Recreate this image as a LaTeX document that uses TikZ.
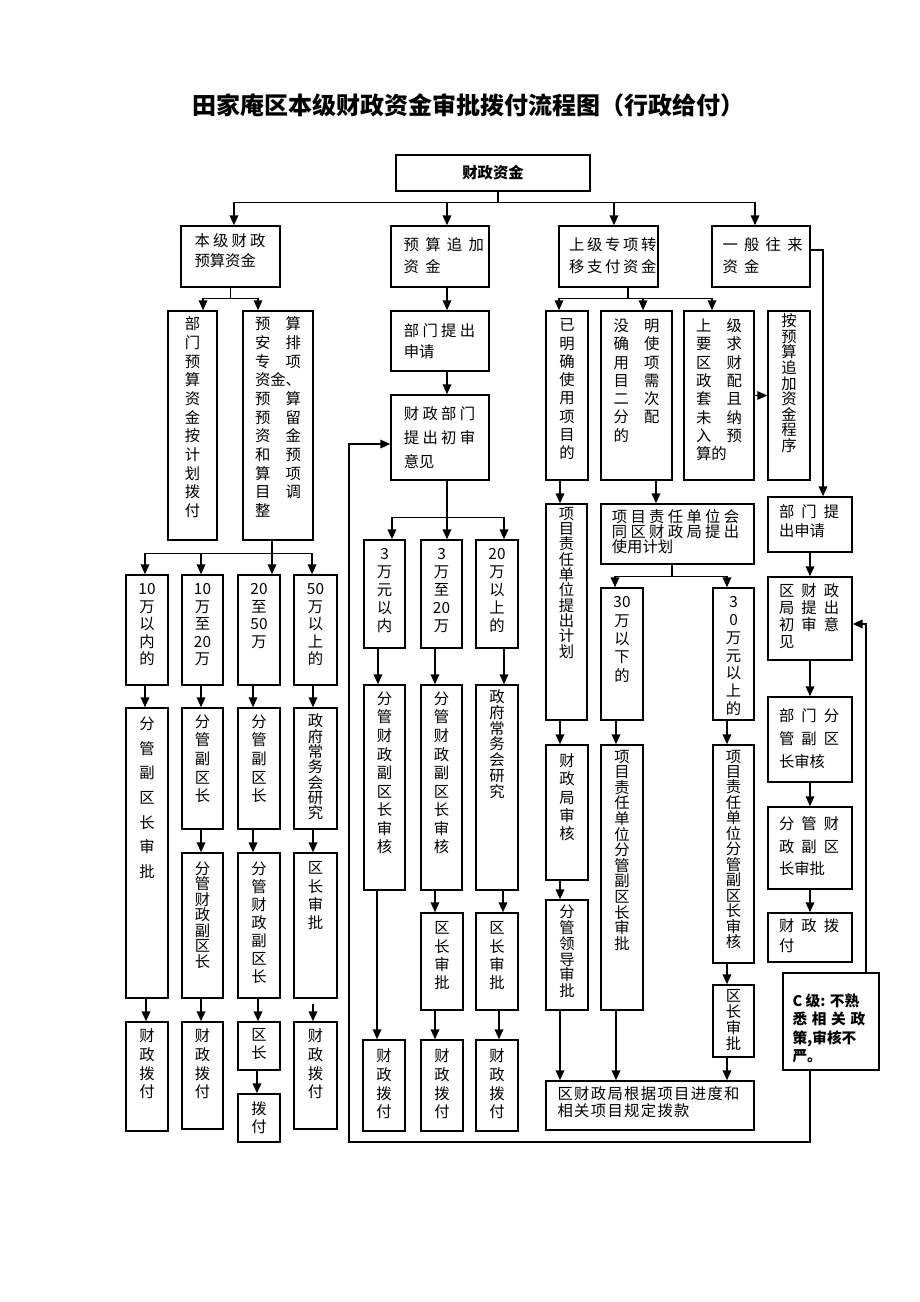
\documentclass[tikz,border=0pt]{standalone}
\usepackage{fontspec}
\setmainfont{Noto Sans CJK SC}
\usetikzlibrary{arrows.meta,calc}
\makeatletter
\newcommand\ls[2]{\def\ls@g{\hspace{#1}}\let\ls@sep\relax\@tfor\ls@c:=#2\do{\ls@sep\ls@c\let\ls@sep\ls@g}}
\makeatother
\newcommand\gr[2]{\makebox[3em]{#1\hfill#2}}
\newcommand\gl[1]{\makebox[3em][l]{#1}}
\tikzset{
 box/.style={draw,line width=1.1pt,inner sep=0pt},
 txt/.style={inner sep=0pt,align=center},
 ln/.style={line width=1.1pt},
 arr/.style={line width=1.1pt,-{Triangle[width=6.5pt,length=7.5pt]}},
}
\newcommand\bx[5]{\node[box,minimum width={(#4-#2)*0.75pt},minimum height={(#5-#3)*0.75pt}] (#1) at ({(#2+#4)/2},{(#3+#5)/2}) {};}
\newcommand\vtx[4]{\node[txt,anchor=north,font=\fontsize{11.5pt}{#3}\selectfont] at ([yshift={-(#2-7.7)*0.75pt}]#1.north) {#4};}
\newcommand\htx[5]{\node[txt,anchor=north west,align=left,font=\fontsize{11.5pt}{#4}\selectfont] at ([xshift=#2,yshift={-(#3-7.7)*0.75pt}]#1.north west) {#5};}
\newcommand\va[3]{\path ([xshift=#3]#1.south) coordinate (tmpA); \draw[arr] (tmpA) -- (tmpA |- #2.north);}
\begin{document}
\begin{tikzpicture}[x=0.75pt,y=-0.75pt]
\useasboundingbox (0,0) rectangle (920,1302);
\node[font=\fontsize{18pt}{20pt}\selectfont\bfseries] (title) at (468,105) {田家庵区本级财政资金审批拨付流程图（行政给付）};
% root
\bx{root}{396}{155}{590}{191}
\node[font=\fontsize{11.5pt}{14pt}\selectfont\bfseries] at (root) {财政资金};
% top row
\bx{A}{181}{226}{280}{287}
\htx{A}{10.5pt}{16}{15pt}{\ls{2.4pt}{本级财政}\\预算资金}
\bx{B}{391}{226}{489}{287}
\htx{B}{9.75pt}{20}{16.5pt}{\ls{4.8pt}{预算追加}\\\ls{4.8pt}{资金}}
\bx{C}{559}{226}{658}{287}
\htx{C}{8pt}{20}{16.5pt}{\ls{2pt}{上级专项转}\\\ls{2pt}{移支付资金}}
\bx{D}{712}{226}{810}{287}
\htx{D}{8.25pt}{20}{16.5pt}{\ls{4.7pt}{一般往来}\\\ls{4.7pt}{资金}}
\draw[ln] ([xshift=3.75pt]root.south) -- ++(0,11) coordinate (b0);
\draw[arr] (b0) -| ([xshift=2.6pt]A.north);
\draw[arr] (b0) -| ([xshift=5.25pt]B.north);
\draw[arr] (b0) -| ([xshift=4.1pt]C.north);
\draw[arr] (b0) -| ([xshift=-4.5pt]D.north);
% column A
\bx{A1}{168}{311}{217}{540}
\vtx{A1}{14}{14pt}{部\\门\\预\\算\\资\\金\\按\\计\\划\\拨\\付}
\bx{A2}{243}{311}{313}{540}
\vtx{A2}{14}{14pt}{\gr{预}{算}\\\gr{安}{排}\\\gr{专}{项}\\\gl{资金、}\\\gr{预}{算}\\\gr{预}{留}\\\gr{资}{金}\\\gr{和}{预}\\\gr{算}{项}\\\gr{目}{调}\\\gl{整}}
\draw[ln] (A.south) -- ++(0,11) coordinate (bA);
\draw[arr] (bA) -| ([xshift=7.9pt]A1.north);
\draw[arr] (bA) -| ([xshift=-15pt]A2.north);
\bx{E1}{126}{575}{168}{685}
\vtx{E1}{17}{13.1pt}{10\\万\\以\\内\\的}
\bx{E2}{182}{575}{223}{685}
\vtx{E2}{17}{13.1pt}{10\\万\\至\\20\\万}
\bx{E3}{238}{575}{280}{685}
\vtx{E3}{17}{13.1pt}{20\\至\\50\\万}
\bx{E4}{294}{575}{337}{685}
\vtx{E4}{17}{13.1pt}{50\\万\\以\\上\\的}
\draw[ln] ([xshift=-4.5pt]A2.south) -- ++(0,13) coordinate (bA2);
\draw[arr] (bA2) -| ([xshift=-1.5pt]E1.north);
\draw[arr] (bA2) -| ([xshift=-1.1pt]E2.north);
\draw[arr] (bA2) -| ([xshift=9.75pt]E3.north);
\draw[arr] (bA2) -| ([xshift=-2.6pt]E4.north);
\bx{F1}{126}{708}{168}{998}
\vtx{F1}{17}{18.5pt}{分\\管\\副\\区\\长\\审\\批}
\bx{F2}{182}{708}{223}{829}
\vtx{F2}{15}{13.9pt}{分\\管\\副\\区\\长}
\bx{F3}{238}{708}{280}{829}
\vtx{F3}{15}{13.9pt}{分\\管\\副\\区\\长}
\bx{F4}{294}{708}{337}{829}
\vtx{F4}{14}{11.5pt}{政\\府\\常\\务\\会\\研\\究}
\va{E1}{F1}{-1.5pt}
\va{E2}{F2}{-1.1pt}
\va{E3}{F3}{-4.5pt}
\va{E4}{F4}{-1.9pt}
\bx{G2}{182}{853}{223}{998}
\vtx{G2}{17}{11.6pt}{分\\管\\财\\政\\副\\区\\长}
\bx{G3}{238}{853}{280}{998}
\vtx{G3}{17}{13.5pt}{分\\管\\财\\政\\副\\区\\长}
\bx{G4}{294}{853}{337}{998}
\vtx{G4}{17}{13.7pt}{区\\长\\审\\批}
\va{F2}{G2}{-1.1pt}
\va{F3}{G3}{-4.5pt}
\va{F4}{G4}{-1.9pt}
\bx{H1}{126}{1022}{168}{1131}
\vtx{H1}{15}{14pt}{财\\政\\拨\\付}
\bx{H2}{182}{1022}{223}{1129}
\vtx{H2}{15}{14pt}{财\\政\\拨\\付}
\bx{H3}{238}{1022}{280}{1070}
\vtx{H3}{15}{13.5pt}{区\\长}
\bx{H4}{294}{1022}{337}{1129}
\vtx{H4}{15}{14pt}{财\\政\\拨\\付}
\bx{H5}{238}{1094}{280}{1142}
\vtx{H5}{16}{13.5pt}{拨\\付}
\va{F1}{H1}{-0.75pt}
\va{G2}{H2}{-1.1pt}
\va{G3}{H3}{-0.75pt}
\path ([xshift=-1.9pt,yshift=-3.75pt]G4.south) coordinate (g4s);
\draw[arr] (g4s) -- (g4s |- H4.north);
\va{H3}{H5}{-1.5pt}
% column B
\bx{B1}{391}{311}{489}{371}
\htx{B1}{10pt}{21}{15.75pt}{\ls{2.5pt}{部门提出}\\申请}
\bx{B2}{391}{395}{489}{480}
\htx{B2}{10pt}{20}{18pt}{\ls{2.5pt}{财政部门}\\\ls{2.5pt}{提出初审}\\意见}
\va{B}{B1}{5.25pt}
\va{B1}{B2}{5.25pt}
\bx{I1}{364}{540}{405}{648}
\vtx{I1}{17}{13.4pt}{3\\万\\元\\以\\内}
\bx{I2}{421}{540}{462}{648}
\vtx{I2}{17}{13.4pt}{3\\万\\至\\20\\万}
\bx{I3}{476}{540}{518}{648}
\vtx{I3}{17}{13.4pt}{20\\万\\以\\上\\的}
\draw[ln] ([xshift=5.25pt]B2.south) -- ++(0,37) coordinate (bB2);
\draw[arr] (bB2) -| ([xshift=5.6pt]I1.north);
\draw[arr] (bB2) -| ([xshift=4.1pt]I2.north);
\draw[arr] (bB2) -| ([xshift=5.25pt]I3.north);
\bx{J1}{364}{685}{405}{890}
\vtx{J1}{15}{13.9pt}{分\\管\\财\\政\\副\\区\\长\\审\\核}
\bx{J2}{421}{685}{462}{890}
\vtx{J2}{15}{13.9pt}{分\\管\\财\\政\\副\\区\\长\\审\\核}
\bx{J3}{476}{685}{518}{890}
\vtx{J3}{13}{11.8pt}{政\\府\\常\\务\\会\\研\\究}
\va{I1}{J1}{-4.9pt}
\va{I2}{J2}{-4.9pt}
\va{I3}{J3}{5.25pt}
\bx{K2}{421}{913}{463}{1010}
\vtx{K2}{17}{13.7pt}{区\\长\\审\\批}
\bx{K3}{476}{913}{518}{1010}
\vtx{K3}{17}{13.7pt}{区\\长\\审\\批}
\va{J2}{K2}{-4.9pt}
\va{J3}{K3}{4.5pt}
\bx{L1}{363}{1040}{405}{1131}
\vtx{L1}{17}{14pt}{财\\政\\拨\\付}
\bx{L2}{421}{1040}{463}{1131}
\vtx{L2}{17}{14pt}{财\\政\\拨\\付}
\bx{L3}{476}{1040}{518}{1131}
\vtx{L3}{17}{14pt}{财\\政\\拨\\付}
\va{J1}{L1}{-5.6pt}
\va{K2}{L2}{-5.25pt}
\va{K3}{L3}{1.5pt}
% column C
\bx{C1}{546}{311}{588}{480}
\vtx{C1}{16}{13.7pt}{已\\明\\确\\使\\用\\项\\目\\的}
\bx{C2}{601}{311}{672}{480}
\vtx{C2}{16}{13.7pt}{\gr{没}{明}\\\gr{确}{使}\\\gr{用}{项}\\\gr{目}{需}\\\gr{二}{次}\\\gr{分}{配}\\\gl{的}}
\bx{C3}{684}{311}{754}{480}
\vtx{C3}{16}{13.7pt}{\gr{上}{级}\\\gr{要}{求}\\\gr{区}{财}\\\gr{政}{配}\\\gr{套}{且}\\\gr{未}{纳}\\\gr{入}{预}\\\gl{算的}}
\bx{C4}{768}{311}{810}{480}
\vtx{C4}{11}{11.7pt}{按\\预\\算\\追\\加\\资\\金\\程\\序}
\draw[ln] ([xshift=14.6pt]C.south) -- ++(0,11) coordinate (bC);
\draw[arr] (bC) -| ([xshift=-6pt]C1.north);
\draw[arr] (bC) -| ([xshift=4.9pt]C2.north);
\draw[arr] (bC) -| ([xshift=-5.25pt]C3.north);
\draw[arr] (C3.east) -- (C4.west);
\bx{C5}{546}{504}{587}{720}
\vtx{C5}{11}{11.5pt}{项\\目\\责\\任\\单\\位\\提\\出\\计\\划}
\bx{C6}{601}{504}{754}{564}
\htx{C6}{8.5pt}{14}{11.3pt}{\ls{2.5pt}{项目责任单位会}\\\ls{2.5pt}{同区财政局提出}\\使用计划}
\va{C1}{C5}{-5.25pt}
\va{C2}{C6}{14.6pt}
\bx{C7}{601}{588}{643}{720}
\vtx{C7}{17}{13.7pt}{30\\万\\以\\下\\的}
\bx{C8}{713}{588}{754}{720}
\vtx{C8}{17}{13.3pt}{3\\0\\万\\元\\以\\上\\的}
\draw[ln] ([xshift=-4.1pt]C6.south) -- ++(0,12) coordinate (bC6);
\draw[arr] (bC6) -| ([xshift=-5.25pt]C7.north);
\draw[arr] (bC6) -| ([xshift=-4.9pt]C8.north);
\bx{C9}{546}{745}{588}{880}
\vtx{C9}{17}{13.7pt}{财\\政\\局\\审\\核}
\bx{C10}{601}{745}{643}{1010}
\vtx{C10}{13}{11.7pt}{项\\目\\责\\任\\单\\位\\分\\管\\副\\区\\长\\审\\批}
\bx{C11}{713}{745}{754}{963}
\vtx{C11}{13}{11.6pt}{项\\目\\责\\任\\单\\位\\分\\管\\副\\区\\长\\审\\核}
\va{C5}{C9}{-4.9pt}
\va{C7}{C10}{-4.5pt}
\va{C8}{C11}{-4.9pt}
\bx{C12}{546}{900}{588}{1010}
\vtx{C12}{13}{11.9pt}{分\\管\\领\\导\\审\\批}
\bx{C13}{713}{985}{754}{1057}
\vtx{C13}{13}{11.8pt}{区\\长\\审\\批}
\va{C9}{C12}{-5.25pt}
\va{C11}{C13}{-4.9pt}
\bx{C14}{546}{1081}{754}{1130}
\htx{C14}{9pt}{14}{12.75pt}{\ls{1pt}{区财政局根据项目进度和}\\\ls{1pt}{相关项目规定拨款}}
\va{C12}{C14}{-5.25pt}
\va{C10}{C14}{-4.5pt}
\va{C13}{C14}{-4.9pt}
% column D
\bx{D1}{768}{497}{852}{552}
\htx{D1}{8.6pt}{16}{14.25pt}{\ls{5.3pt}{部门提}\\出申请}
\bx{D2}{768}{577}{852}{660}
\htx{D2}{8.6pt}{15}{12.75pt}{\ls{5.3pt}{区财政}\\\ls{5.3pt}{局提出}\\\ls{5.3pt}{初审意}\\见}
\bx{D3}{768}{697}{852}{782}
\htx{D3}{8.6pt}{20}{17.25pt}{\ls{5.3pt}{部门分}\\\ls{5.3pt}{管副区}\\长审核}
\bx{D4}{768}{807}{852}{889}
\htx{D4}{8.6pt}{18}{16.9pt}{\ls{5.3pt}{分管财}\\\ls{5.3pt}{政副区}\\长审批}
\bx{D5}{768}{913}{852}{962}
\htx{D5}{8.6pt}{14}{15pt}{\ls{5.3pt}{财政拨}\\付}
\draw[arr] ([yshift=4.9pt]D.east) -| ([xshift=9.75pt]D1.north);
\va{D1}{D2}{0pt}
\va{D2}{D3}{0pt}
\va{D3}{D4}{0pt}
\va{D4}{D5}{0pt}
\bx{CL}{783}{973}{879}{1070}
\node[txt,anchor=north west,align=left,font=\fontsize{11pt}{13.75pt}\selectfont\bfseries] at ([xshift=7.5pt,yshift=-16pt]CL.north west) {C 级: 不熟\\\ls{3.5pt}{悉相关政}\\策,审核不\\严。};
\draw[arr] ([xshift=26.25pt]CL.north) |- ([yshift=-4.1pt]D2.east);
\coordinate (fbl) at (349,1142);
\draw[arr] ([xshift=-15.75pt]CL.south) |- (fbl) |- ([yshift=-4.9pt]B2.west);
\end{tikzpicture}
\end{document}
